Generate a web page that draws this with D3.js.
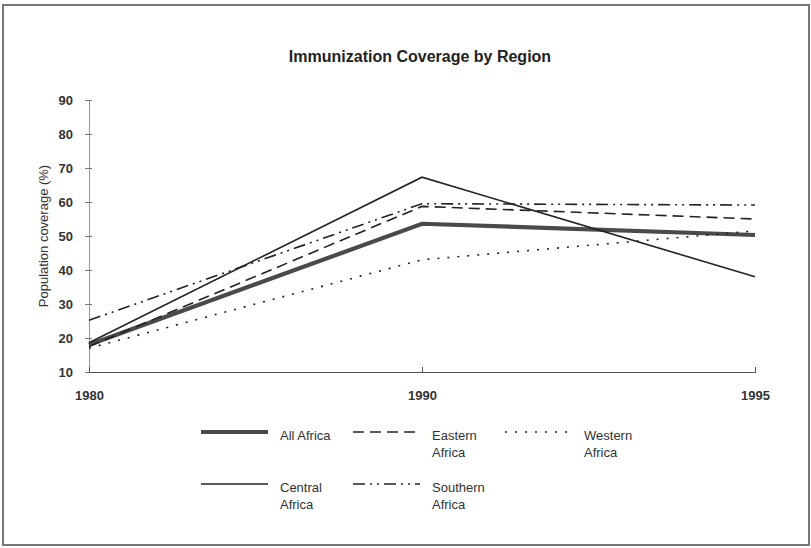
<!DOCTYPE html>
<html>
<head>
<meta charset="utf-8">
<script src="https://cdn.jsdelivr.net/npm/d3@7"></script>
<style>
  html, body { margin: 0; padding: 0; background: #fff; }
  svg { display: block; font-family: "Liberation Sans", Arial, sans-serif; }
</style>
</head>
<body>
<svg id="chart" width="811" height="548"></svg>
<script>
// Immunization coverage (%) by African region
const years = ["1980", "1990", "1995"];
const allAfrica = [18, 53.6, 50.3];
const easternAfrica = [17.5, 58.7, 55];
const westernAfrica = [17, 43, 51.5];
const centralAfrica = [18.6, 67.3, 38];
const southernAfrica = [25.2, 59.5, 59.1];
const yTicks = [10, 20, 30, 40, 50, 60, 70, 80, 90];

const series = [
  { name: ["All Africa"], values: allAfrica, width: 4.2, dash: null, color: "#4a4a4a" },
  { name: ["Eastern", "Africa"], values: easternAfrica, width: 1.6, dash: "11,6", color: "#222" },
  { name: ["Western", "Africa"], values: westernAfrica, width: 1.6, dash: "2,8", color: "#222" },
  { name: ["Central", "Africa"], values: centralAfrica, width: 1.6, dash: null, color: "#222" },
  { name: ["Southern", "Africa"], values: southernAfrica, width: 1.6, dash: "12,5,2,5,2,5", color: "#222" }
];

const svg = d3.select("#chart");

// outer frame
svg.append("rect")
  .attr("x", 3).attr("y", 5).attr("width", 806).attr("height", 540)
  .attr("fill", "none").attr("stroke", "#777").attr("stroke-width", 2);

svg.append("text")
  .attr("x", 420).attr("y", 62)
  .attr("text-anchor", "middle")
  .attr("font-size", 16).attr("font-weight", "bold").attr("fill", "#222")
  .text("Immunization Coverage by Region");

const x = d3.scalePoint().domain(years).range([89, 755]).padding(0);
const y = d3.scaleLinear().domain([10, 90]).range([372, 100]);

// y axis
const yAxis = svg.append("g").attr("transform", "translate(89,0)")
  .call(d3.axisLeft(y).tickValues(yTicks).tickSize(0).tickPadding(16));
yAxis.select(".domain").attr("stroke", "#999").attr("stroke-width", 1);
yAxis.selectAll(".tick line").attr("x1", -4).attr("x2", 3).attr("stroke", "#777");
yAxis.selectAll(".tick text")
  .attr("font-family", "Liberation Sans, Arial, sans-serif")
  .attr("font-size", 13).attr("font-weight", "bold").attr("fill", "#333");

// x axis
const xAxis = svg.append("g").attr("transform", "translate(0,372)")
  .call(d3.axisBottom(x).tickSizeOuter(0).tickSize(0).tickPadding(19));
xAxis.select(".domain").attr("stroke", "#555").attr("stroke-width", 1);
xAxis.selectAll(".tick line").attr("y1", -5).attr("y2", 1).attr("stroke", "#555");
xAxis.selectAll(".tick text")
  .attr("font-family", "Liberation Sans, Arial, sans-serif")
  .attr("font-size", 13).attr("font-weight", "bold").attr("fill", "#333");

svg.append("text")
  .attr("transform", "translate(48,236) rotate(-90)")
  .attr("text-anchor", "middle")
  .attr("font-size", 13).attr("fill", "#333")
  .text("Population coverage (%)");

// series lines
const line = d3.line().x((d, i) => x(years[i])).y(d => y(d));
svg.append("g").selectAll("path")
  .data(series)
  .join("path")
  .attr("d", d => line(d.values))
  .attr("fill", "none")
  .attr("stroke", d => d.color)
  .attr("stroke-width", d => d.width)
  .attr("stroke-dasharray", d => d.dash)
  .attr("stroke-linejoin", "miter");

// legend
const legendCols = [201, 353, 505];
const legendRows = [432, 484];
const leg = svg.append("g").selectAll("g")
  .data(series)
  .join("g")
  .attr("transform", (d, i) => `translate(${legendCols[i % 3]},${legendRows[Math.floor(i / 3)]})`);
leg.append("line")
  .attr("x1", 0).attr("x2", 67).attr("y1", 0).attr("y2", 0)
  .attr("stroke", d => d.color)
  .attr("stroke-width", d => d.width)
  .attr("stroke-dasharray", d => d.dash);
leg.append("text")
  .attr("x", 79).attr("y", 8)
  .attr("font-size", 13).attr("fill", "#333")
  .selectAll("tspan")
  .data(d => d.name)
  .join("tspan")
  .attr("x", 79)
  .attr("dy", (t, i) => i === 0 ? 0 : 17)
  .text(t => t);
</script>
</body>
</html>
